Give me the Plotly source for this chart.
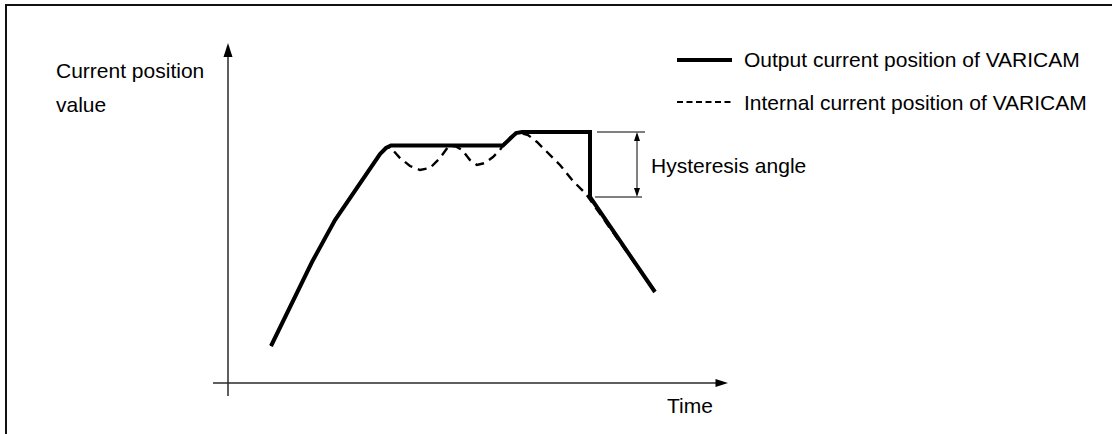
import plotly.graph_objects as go

# Output current position of VARICAM (solid trace): time vs. position value
out_time = [4.3, 6.5, 8.4, 10.7, 12.7, 15.2, 15.8, 16.3, 27.5, 28.2, 28.8, 29.4, 36.2, 36.2, 42.7]
out_value = [3.7, 8.3, 12.1, 16.3, 19.3, 22.9, 23.5, 23.75, 23.75, 24.5, 25.0, 25.1, 25.1, 18.6, 9.1]

# Internal current position of VARICAM (dashed trace)
int_time = [4.3, 6.5, 8.4, 10.7, 12.7, 15.2, 15.8, 16.2, 17.2, 18.2, 19.2, 20.2, 21.2, 22.0,
            22.7, 23.4, 24.2, 24.9, 25.7, 26.5, 27.2, 27.8, 28.5, 29.2, 30.0, 30.9, 31.9,
            33.2, 34.5, 35.8, 42.7]
int_value = [3.7, 8.3, 12.1, 16.3, 19.3, 22.9, 23.5, 23.6, 22.5, 21.7, 21.3, 21.5, 22.5, 23.6,
             23.7, 23.3, 22.3, 21.8, 22.0, 22.6, 23.3, 24.2, 24.8, 25.0, 24.8, 24.1, 23.1,
             21.8, 20.2, 18.9, 9.1]

legend_labels = ["Output current position of VARICAM", "Internal current position of VARICAM"]
y_label = ["Current position", "value"]
x_label = "Time"
hyst_label = "Hysteresis angle"

W, H = 1112, 434
X_RANGE = [-22.8, 88.4]
Y_RANGE = [-5.1, 38.3]


def px(x):
    return x / W


def py(y):
    return 1 - y / H


FONT = dict(family="Liberation Sans, Arial, sans-serif", size=21, color="#000000")
AXIS_COLOR = "#2a2a2a"

fig = go.Figure()

fig.add_trace(go.Scatter(
    x=int_time, y=int_value, mode="lines",
    line=dict(color="#000000", width=2.4, dash="9px,6px"),
    hoverinfo="skip", showlegend=False,
))
fig.add_trace(go.Scatter(
    x=out_time, y=out_value, mode="lines",
    line=dict(color="#000000", width=4),
    hoverinfo="skip", showlegend=False,
))

shapes = []


def tri(tip_x, tip_y, dx, dy, length, half):
    # filled arrowhead pointing along (dx, dy) in data units
    bx, by = tip_x - dx * length, tip_y - dy * length
    nx, ny = -dy, dx
    p1 = (bx + nx * half, by + ny * half)
    p2 = (bx - nx * half, by - ny * half)
    return dict(type="path", xref="x", yref="y",
                path=f"M {tip_x} {tip_y} L {p1[0]} {p1[1]} L {p2[0]} {p2[1]} Z",
                fillcolor="#000000", line=dict(width=0))


# axes with arrowheads
y_tip, x_tip = 34.0, 50.0
shapes.append(dict(type="line", xref="x", yref="y", x0=0, x1=0, y0=-1.3, y1=y_tip - 0.6,
                   line=dict(color=AXIS_COLOR, width=1.5)))
shapes.append(tri(0, y_tip, 0, 1, 1.4, 0.45))
shapes.append(dict(type="line", xref="x", yref="y", x0=-1.5, x1=x_tip - 0.6, y0=0, y1=0,
                   line=dict(color=AXIS_COLOR, width=1.5)))
shapes.append(tri(x_tip, 0, 1, 0, 1.25, 0.4))

# hysteresis bracket: spans from the held plateau to the value after the drop
drop_i = len(out_time) - 3
hyst_top = out_value[drop_i]
hyst_bot = out_value[drop_i + 1]
shapes.append(dict(type="line", xref="x", yref="y", x0=36.9, x1=41.7, y0=hyst_top, y1=hyst_top,
                   line=dict(color="#000000", width=1)))
shapes.append(dict(type="line", xref="x", yref="y", x0=36.7, x1=41.4, y0=hyst_bot, y1=hyst_bot,
                   line=dict(color="#000000", width=1)))
arr_x = 40.9
shapes.append(dict(type="line", xref="x", yref="y", x0=arr_x, x1=arr_x,
                   y0=hyst_bot + 0.5, y1=hyst_top - 0.5, line=dict(color="#000000", width=1)))
shapes.append(tri(arr_x, hyst_top, 0, 1, 0.9, 0.3))
shapes.append(tri(arr_x, hyst_bot, 0, -1, 0.9, 0.3))

# legend samples
shapes.append(dict(type="line", xref="paper", yref="paper", x0=px(677), x1=px(732),
                   y0=py(60), y1=py(60), line=dict(color="#000000", width=4)))
shapes.append(dict(type="line", xref="paper", yref="paper", x0=px(677), x1=px(732),
                   y0=py(102), y1=py(102), line=dict(color="#000000", width=2, dash="6px,3.5px")))

# frame (top and left edges)
shapes.append(dict(type="line", xref="paper", yref="paper", x0=px(5), x1=1.01,
                   y0=py(5), y1=py(5), line=dict(color="#111111", width=2)))
shapes.append(dict(type="line", xref="paper", yref="paper", x0=px(6), x1=px(6),
                   y0=py(4), y1=-0.01, line=dict(color="#111111", width=2)))

annotations = []


def label(text, x, y):
    annotations.append(dict(text=text, xref="paper", yref="paper", x=px(x - 3), y=py(y),
                            xanchor="left", yanchor="middle", showarrow=False, font=FONT))


label(y_label[0], 57, 70.7)
label(y_label[1], 57, 104.7)
label(legend_labels[0], 745, 59.7)
label(legend_labels[1], 745, 102.7)
label(hyst_label, 652, 165.7)
label(x_label, 668, 405)

fig.update_layout(
    width=W, height=H,
    margin=dict(l=0, r=0, t=0, b=0),
    paper_bgcolor="#ffffff", plot_bgcolor="#ffffff",
    xaxis=dict(range=X_RANGE, visible=False, fixedrange=True),
    yaxis=dict(range=Y_RANGE, visible=False, fixedrange=True),
    shapes=shapes, annotations=annotations,
    showlegend=False,
)

fig.write_html("out.html")
